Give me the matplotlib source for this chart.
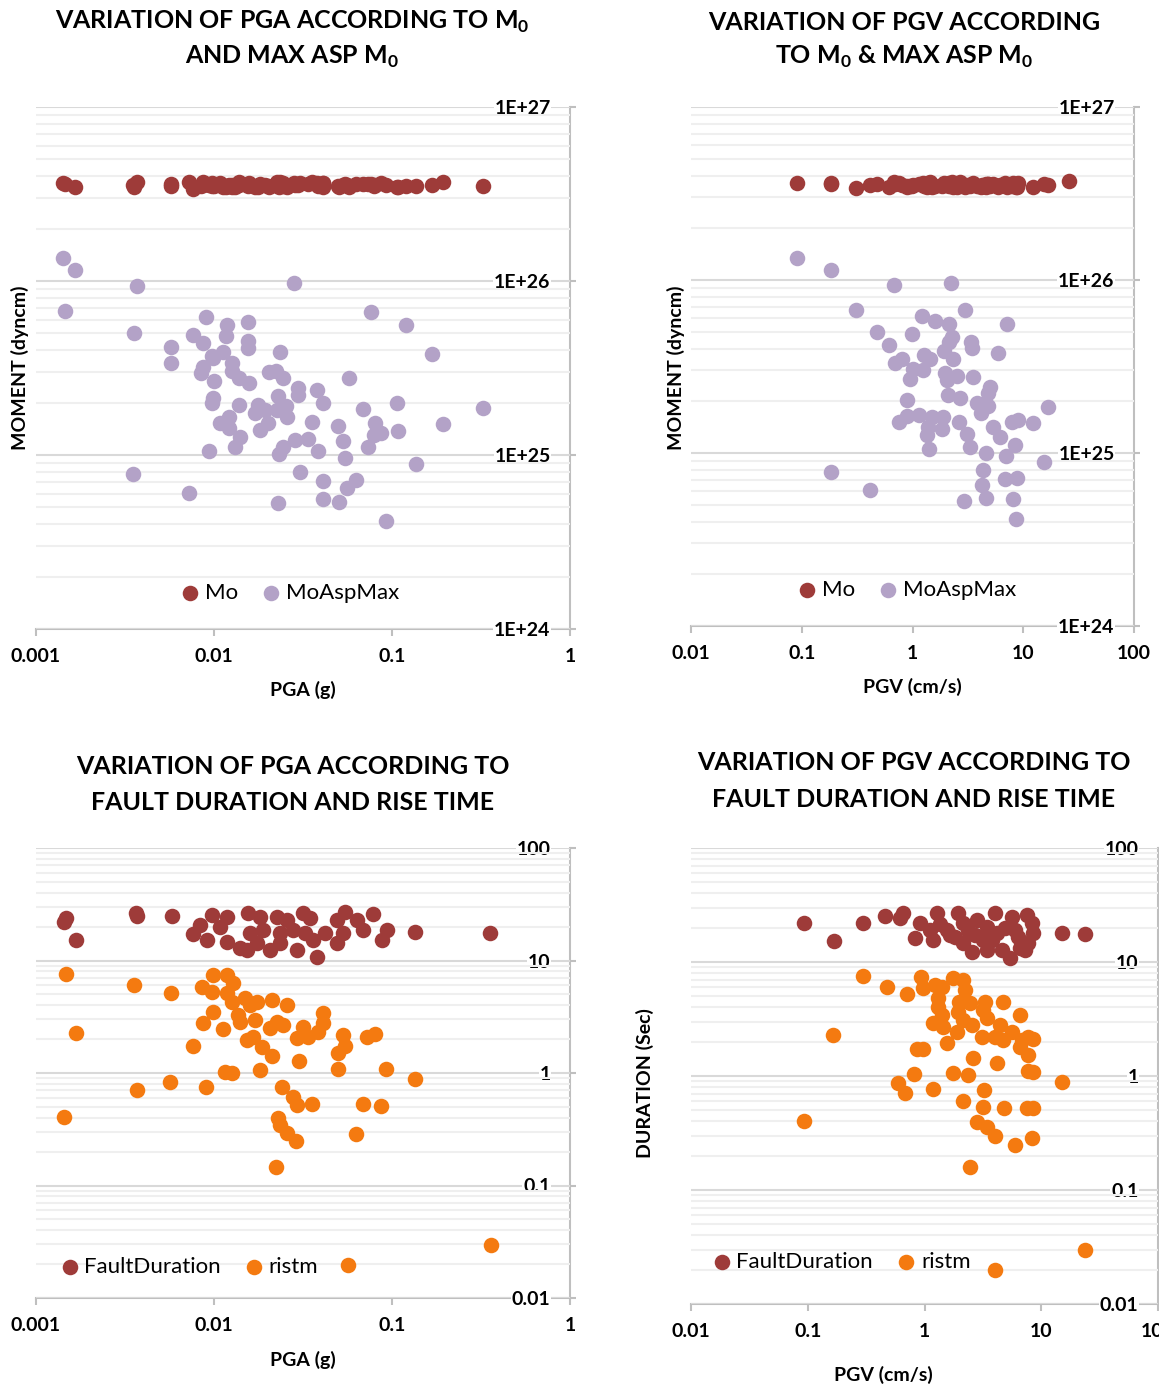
import numpy as np
import matplotlib
matplotlib.use('Agg')
import matplotlib.pyplot as plt
from matplotlib.ticker import LogLocator, NullFormatter

plt.rcParams['font.family'] = ['Lato', 'DejaVu Sans']
plt.rcParams['mathtext.fontset'] = 'custom'
plt.rcParams['mathtext.rm'] = 'Lato'
plt.rcParams['mathtext.bf'] = 'Lato:bold'

# ---- PGA vs moment ----
pga_top = [0.00142, 0.00166, 0.00146, 0.00369, 0.00355, 0.0281, 0.00573, 0.00573, 0.324, 0.194, 0.00351, 0.00724,
           0.00902, 0.0118, 0.0155, 0.00762, 0.00867, 0.0117, 0.0155, 0.0155, 0.00975, 0.0112,
           0.0126, 0.00867, 0.00845, 0.00987, 0.0126, 0.0138, 0.0157, 0.0100, 0.0235, 0.0204,
           0.0223, 0.0244, 0.0296, 0.0379, 0.0573, 0.00987, 0.00975, 0.0138, 0.0177, 0.0229,
           0.0296, 0.0254, 0.0410, 0.0170, 0.0193, 0.0226, 0.0201, 0.0181, 0.0257, 0.0121,
           0.0108, 0.0121, 0.0140, 0.0131, 0.00937, 0.0356, 0.0497, 0.0687, 0.107, 0.0802,
           0.0867, 0.0792, 0.0733, 0.108, 0.0285, 0.0337, 0.0384, 0.0244, 0.0232, 0.0530,
           0.0545, 0.136, 0.0304, 0.0410, 0.0559, 0.0628, 0.0229, 0.0410, 0.0504, 0.0925,
           0.0762, 0.120, 0.168]
mo_asp_top = [13.6, 11.6, 6.7, 9.4, 5.0, 9.7, 4.2, 3.4, 1.86, 1.51, 0.78, 0.605,
              6.2, 5.6, 5.8, 4.9, 4.4, 4.8, 4.5, 4.1, 3.7, 3.9,
              3.4, 3.2, 2.96, 3.6, 3.04, 2.77, 2.6, 2.66, 3.9, 3.0,
              3.04, 2.77, 2.43, 2.37, 2.77, 2.13, 1.99, 1.94, 1.94, 2.18,
              2.21, 1.91, 1.99, 1.74, 1.82, 1.82, 1.53, 1.39, 1.65, 1.65,
              1.53, 1.43, 1.27, 1.11, 1.05, 1.55, 1.47, 1.84, 1.99, 1.53,
              1.34, 1.30, 1.11, 1.37, 1.22, 1.24, 1.05, 1.11, 1.01, 1.20,
              0.96, 0.89, 0.80, 0.71, 0.65, 0.72, 0.53, 0.56, 0.54, 0.42,
              6.6, 5.6, 3.8]  # x 1e25
mo_top = [3.65, 3.45, 3.6, 3.7, 3.45, 3.65, 3.6, 3.5, 3.5, 3.7, 3.55, 3.7,
          3.6, 3.5, 3.6, 3.4, 3.55, 3.45, 3.6, 3.5, 3.65, 3.45,
          3.55, 3.7, 3.5, 3.6, 3.45, 3.55, 3.65, 3.5, 3.7, 3.45,
          3.6, 3.5, 3.55, 3.65, 3.45, 3.6, 3.5, 3.7, 3.45, 3.55,
          3.6, 3.5, 3.65, 3.45, 3.55, 3.7, 3.5, 3.6, 3.45, 3.55,
          3.65, 3.5, 3.6, 3.45, 3.55, 3.7, 3.5, 3.6, 3.45, 3.55,
          3.65, 3.5, 3.6, 3.45, 3.55, 3.6, 3.5, 3.65, 3.45, 3.55,
          3.6, 3.5, 3.65, 3.45, 3.55, 3.6, 3.5, 3.65, 3.45, 3.55,
          3.6, 3.5, 3.55]  # x 1e26

# ---- PGV vs moment ----
pgv_top = [0.0906, 0.184, 0.308, 0.679, 2.22, 2.97, 1.22, 1.59, 2.13, 7.11,
           0.477, 0.988, 2.27, 0.612, 3.37, 3.43, 2.13, 1.92, 5.90, 0.802,
           0.693, 1.27, 1.44, 2.32, 1.01, 1.24, 0.948, 1.96, 2.52, 2.04,
           3.51, 5.00, 4.80, 0.890, 2.09, 2.68, 3.81, 4.80, 4.14, 16.7,
           0.754, 0.890, 1.14, 1.50, 1.88, 2.62, 1.84, 1.38, 1.35, 3.10,
           5.32, 7.89, 8.93, 12.2, 6.15, 8.40, 3.30, 1.41, 4.59, 6.97,
           15.3, 4.32, 6.82, 8.75, 4.23, 4.59, 2.91, 8.05, 8.57, 0.413,
           0.184]
mo_asp_right = [13.4, 11.4, 6.7, 9.4, 9.6, 6.7, 6.2, 5.8, 5.6, 5.6,
                5.0, 4.9, 4.7, 4.2, 4.4, 4.05, 4.4, 3.9, 3.8, 3.5,
                3.3, 3.7, 3.5, 3.5, 3.06, 3.0, 2.68, 2.9, 2.8, 2.64,
                2.75, 2.4, 2.22, 2.02, 2.16, 2.08, 1.95, 1.87, 1.70, 1.85,
                1.51, 1.64, 1.66, 1.62, 1.62, 1.51, 1.38, 1.41, 1.27, 1.29,
                1.41, 1.51, 1.55, 1.49, 1.24, 1.11, 1.08, 1.05, 1.0, 0.96,
                0.89, 0.80, 0.71, 0.72, 0.65, 0.55, 0.53, 0.54, 0.415, 0.61,
                0.78]  # x 1e25
mo_right = [3.65, 3.65, 3.4, 3.7, 3.55, 3.45, 3.6, 3.5, 3.65, 3.45,
            3.6, 3.5, 3.7, 3.45, 3.55, 3.6, 3.5, 3.65, 3.45, 3.55,
            3.6, 3.5, 3.7, 3.45, 3.55, 3.65, 3.5, 3.6, 3.45, 3.55,
            3.65, 3.5, 3.6, 3.45, 3.55, 3.7, 3.5, 3.6, 3.45, 3.55,
            3.65, 3.5, 3.6, 3.45, 3.55, 3.6, 3.5, 3.65, 3.45, 3.55,
            3.6, 3.5, 3.65, 3.45, 3.55, 3.6, 3.5, 3.65, 3.45, 3.55,
            3.6, 3.5, 3.65, 3.45, 3.55, 3.6, 3.5, 3.65, 3.45, 3.55,
            3.6]  # x 1e26
pgv_mo_extra = [26.0]
mo_right_extra = [3.75]

# ---- PGA vs durations ----
pga_fd = [0.00144, 0.00147, 0.00168, 0.00365, 0.00369, 0.00581, 0.00975, 0.00834, 0.00762, 0.00914,
          0.0118, 0.0108, 0.0118, 0.0140, 0.0155, 0.0181, 0.0159, 0.0153, 0.0174, 0.0188,
          0.0206, 0.0226, 0.0257, 0.0235, 0.0235, 0.0278, 0.0292, 0.0316, 0.0346, 0.0324,
          0.0360, 0.0379, 0.0421, 0.0491, 0.0545, 0.0530, 0.0491, 0.0636, 0.0687, 0.0782,
          0.0937, 0.0879, 0.134, 0.355]
fault_dur_left = [22.0, 23.9, 15.2, 26.4, 24.9, 24.9, 25.4, 20.7, 17.2, 15.2,
                  24.4, 19.9, 14.6, 12.9, 26.4, 24.4, 17.5, 12.4, 14.3, 18.7,
                  12.4, 24.4, 22.9, 17.5, 14.3, 18.7, 12.4, 26.4, 23.9, 17.5,
                  15.2, 10.7, 17.5, 22.9, 27.0, 17.5, 14.3, 22.9, 18.7, 25.9,
                  18.7, 15.2, 17.9, 17.5]
pga_rt = [0.00147, 0.00355, 0.00573, 0.00168, 0.00762, 0.00369, 0.00566, 0.00902, 0.00144, 0.36, 0.0566,
          0.00987, 0.0118, 0.0128, 0.00857, 0.00975, 0.0118, 0.0126, 0.0149, 0.0174, 0.0159,
          0.0212, 0.0257, 0.00987, 0.00867, 0.0136, 0.0140, 0.0170, 0.0226, 0.0244, 0.0206,
          0.0112, 0.0153, 0.0166, 0.0186, 0.0212, 0.0316, 0.0292, 0.0337, 0.0384, 0.0410,
          0.0410, 0.0300, 0.0530, 0.0545, 0.0497, 0.0497, 0.0724, 0.0802, 0.0925, 0.134,
          0.0116, 0.0126, 0.0181, 0.0241, 0.0278, 0.0292, 0.0356, 0.0687, 0.0867, 0.0229,
          0.0235, 0.0257, 0.0289, 0.0628, 0.0223]
ristm_left = [7.59, 6.05, 5.14, 2.27, 1.74, 0.706, 0.832, 0.752, 0.407, 0.0296, 0.0197,
              7.43, 7.43, 6.31, 5.81, 5.25, 5.14, 4.28, 4.64, 4.28, 4.02,
              4.46, 4.02, 3.48, 2.78, 3.28, 2.84, 2.96, 2.84, 2.67, 2.51,
              2.46, 1.96, 2.09, 1.70, 1.42, 2.56, 2.05, 2.09, 2.31, 2.78,
              3.41, 1.28, 2.18, 1.74, 1.51, 1.09, 2.09, 2.22, 1.09, 0.885,
              1.02, 1.0, 1.06, 0.752, 0.612, 0.520, 0.530, 0.530, 0.509, 0.398,
              0.345, 0.293, 0.249, 0.287, 0.146]

# ---- PGV vs durations ----
pgv_fd = [0.0929, 0.168, 0.298, 0.459, 0.656, 0.618, 0.917, 0.831, 1.28, 1.19,
          1.12, 1.56, 1.94, 2.14, 1.83, 2.14, 2.55, 2.82, 3.44, 3.18,
          3.44, 4.03, 4.19, 4.63, 5.63, 5.41, 6.34, 6.59, 7.57, 8.36,
          8.52, 7.71, 15.1, 23.8, 1.36, 1.66, 2.36, 2.70, 3.80, 4.90,
          6.00, 7.30]
fault_dur_right = [22.2, 15.3, 22.2, 25.3, 26.9, 24.3, 22.2, 16.3, 26.9, 15.6,
                   19.1, 19.1, 26.9, 22.2, 16.6, 14.7, 12.2, 23.4, 20.3, 15.6,
                   12.7, 26.9, 18.0, 12.7, 24.8, 10.8, 16.6, 13.3, 25.8, 22.2,
                   18.0, 14.7, 18.0, 17.6, 21.5, 17.3, 19.1, 17.3, 15.6, 19.9,
                   19.1, 12.7]
pgv_rt = [0.298, 0.476, 0.709, 0.935, 0.973, 1.23, 1.42, 1.30, 1.30, 1.42,
          1.19, 1.44, 1.76, 2.14, 2.22, 1.98, 1.94, 2.14, 1.90, 2.55,
          2.46, 3.31, 4.72, 3.18, 3.44, 3.12, 4.45, 4.03, 4.72, 5.63,
          6.59, 6.86, 7.71, 8.52, 6.59, 7.71, 1.56, 0.865, 0.973, 2.60,
          4.19, 7.71, 8.52, 15.1, 0.165, 0.815, 0.594, 0.682, 1.19, 1.76,
          2.36, 3.24, 2.14, 3.18, 4.81, 7.57, 8.52, 2.82, 3.44, 4.03,
          5.98, 8.36, 2.46, 0.0929, 23.8, 4.03]
ristm_right = [7.54, 6.04, 5.24, 7.38, 5.92, 6.28, 6.04, 4.83, 4.03, 3.43,
               2.92, 2.69, 7.24, 6.95, 5.68, 4.46, 3.64, 3.10, 2.43, 2.80,
               4.37, 4.46, 4.46, 3.79, 3.23, 2.20, 2.80, 2.20, 2.07, 2.43,
               3.43, 2.07, 2.20, 2.11, 1.80, 1.53, 1.95, 1.72, 1.72, 1.44,
               1.30, 1.11, 1.08, 0.886, 2.29, 1.04, 0.868, 0.710, 0.769, 1.06,
               1.02, 0.754, 0.604, 0.535, 0.524, 0.524, 0.524, 0.394, 0.357, 0.298,
               0.248, 0.286, 0.159, 0.403, 0.0298, 0.0199]

pga_ticks = [0.001, 0.01, 0.1, 1]
pga_labels = ['0.001', '0.01', '0.1', '1']
pgv_ticks = [0.01, 0.1, 1, 10, 100]
pgv_labels = ['0.01', '0.1', '1', '10', '100']
mo_ticks = [1e24, 1e25, 1e26, 1e27]
mo_labels = ['1E+24', '1E+25', '1E+26', '1E+27']
dur_ticks = [0.01, 0.1, 1, 10, 100]
dur_labels = ['0.01', '0.1', '1', '10', '100']

RED = '#9e3b39'
LILAC = '#b3a2c7'
ORANGE = '#f47a10'
AXIS = '#bfbfbf'

W, H = 1159, 1388
fig = plt.figure(figsize=(W / 100, H / 100), dpi=100)


def axes_px(left, top, right, bottom):
    return fig.add_axes([left / W, 1 - bottom / H, (right - left) / W, (bottom - top) / H])


def text_px(x, y, s, size, rot=0, weight='bold'):
    fig.text(x / W, 1 - y / H, s, ha='center', va='center', fontsize=size,
             fontweight=weight, rotation=rot, color='#000000')


def style(ax, xticks, xlabels, yticks, ylabels):
    ax.set_xscale('log')
    ax.set_yscale('log')
    ax.set_xlim(xticks[0], xticks[-1])
    ax.set_ylim(yticks[0], yticks[-1])
    for s in ['left', 'top']:
        ax.spines[s].set_visible(False)
    for s in ['right', 'bottom']:
        ax.spines[s].set_color(AXIS)
        ax.spines[s].set_linewidth(1.5)
        ax.spines[s].set_zorder(0.3)
    ax.set_xticks(xticks)
    ax.set_xticklabels(xlabels, fontweight='bold', fontsize=14)
    ax.xaxis.set_minor_locator(LogLocator(subs=[]))
    ax.xaxis.set_minor_formatter(NullFormatter())
    ax.tick_params(axis='x', which='major', direction='out', length=5,
                   width=1.5, color=AXIS, pad=9)
    ax.yaxis.tick_right()
    ax.set_yticks(yticks)
    ax.set_yticklabels(ylabels, fontweight='bold', fontsize=14)
    ax.yaxis.set_minor_locator(LogLocator(base=10, subs=np.arange(2, 10)))
    ax.yaxis.set_minor_formatter(NullFormatter())
    ax.tick_params(axis='y', which='major', direction='out', length=4,
                   width=1.5, color=AXIS, pad=-18)
    ax.tick_params(axis='y', which='minor', length=0)
    for lbl in ax.get_yticklabels():
        lbl.set_horizontalalignment('right')
        lbl.set_bbox(dict(facecolor='white', edgecolor='none', pad=0.5))
    ax.grid(axis='y', which='major', color='#d9d9d9', lw=1.5)
    ax.grid(axis='y', which='minor', color='#efefef', lw=1.5)
    ax.grid(axis='x', which='both', visible=False)
    ax.set_axisbelow(True)


def add_legend(ax, x, y):
    ax.legend(loc='center', bbox_to_anchor=(x, y), ncol=2, frameon=False,
              fontsize=16, handlelength=0.8, handletextpad=0.25,
              columnspacing=1.1, borderaxespad=0)


MS = 125

# top left
ax1 = axes_px(36, 107, 570, 629)
style(ax1, pga_ticks, pga_labels, mo_ticks, mo_labels)
ax1.scatter(pga_top, np.array(mo_top) * 1e26, s=MS, color=RED, lw=0, label='Mo', zorder=3)
ax1.scatter(pga_top, np.array(mo_asp_top) * 1e25, s=MS, color=LILAC, lw=0, label='MoAspMax', zorder=3)
add_legend(ax1, 0.476, 0.069)
text_px(292, 22, r'VARIATION OF PGA ACCORDING TO M$_{\mathbf{0}}$', 18)
text_px(292, 57, r'AND MAX ASP M$_{\mathbf{0}}$', 18)
text_px(303, 690, 'PGA (g)', 14)
text_px(20, 368, 'MOMENT (dyncm)', 14, rot=90)

# top right
ax2 = axes_px(691, 107, 1134, 626)
style(ax2, pgv_ticks, pgv_labels, mo_ticks, mo_labels)
ax2.scatter(pgv_top + pgv_mo_extra, np.array(mo_right + mo_right_extra) * 1e26,
            s=MS, color=RED, lw=0, label='Mo', zorder=3)
ax2.scatter(pgv_top, np.array(mo_asp_right) * 1e25, s=MS, color=LILAC, lw=0,
            label='MoAspMax', zorder=3)
add_legend(ax2, 0.488, 0.069)
text_px(904, 22, 'VARIATION OF PGV ACCORDING', 18)
text_px(904, 57, r'TO M$_{\mathbf{0}}$ & MAX ASP M$_{\mathbf{0}}$', 18)
text_px(912, 687, 'PGV (cm/s)', 14)
text_px(676, 368, 'MOMENT (dyncm)', 14, rot=90)

# bottom left
ax3 = axes_px(36, 848, 570, 1298)
style(ax3, pga_ticks, pga_labels, dur_ticks, dur_labels)
ax3.scatter(pga_fd, fault_dur_left, s=MS, color=RED, lw=0, label='FaultDuration', zorder=3)
ax3.scatter(pga_rt, ristm_left, s=MS, color=ORANGE, lw=0, label='ristm', zorder=3)
add_legend(ax3, 0.288, 0.069)
text_px(293, 767, 'VARIATION OF PGA ACCORDING TO', 18)
text_px(293, 803, 'FAULT DURATION AND RISE TIME', 18)
text_px(303, 1360, 'PGA (g)', 14)
text_px(-9, 1073, 'DURATION (Sec)', 14, rot=90)

# bottom right
ax4 = axes_px(691, 848, 1158, 1304)
style(ax4, pgv_ticks, pgv_labels, dur_ticks, dur_labels)
ax4.scatter(pgv_fd, fault_dur_right, s=MS, color=RED, lw=0, label='FaultDuration', zorder=3)
ax4.scatter(pgv_rt, ristm_right, s=MS, color=ORANGE, lw=0, label='ristm', zorder=3)
add_legend(ax4, 0.323, 0.092)
text_px(914, 763, 'VARIATION OF PGV ACCORDING TO', 18)
text_px(914, 799, 'FAULT DURATION AND RISE TIME', 18)
text_px(883, 1375, 'PGV (cm/s)', 14)
text_px(645, 1083, 'DURATION (Sec)', 14, rot=90)

fig.savefig('out.png', dpi=100)
